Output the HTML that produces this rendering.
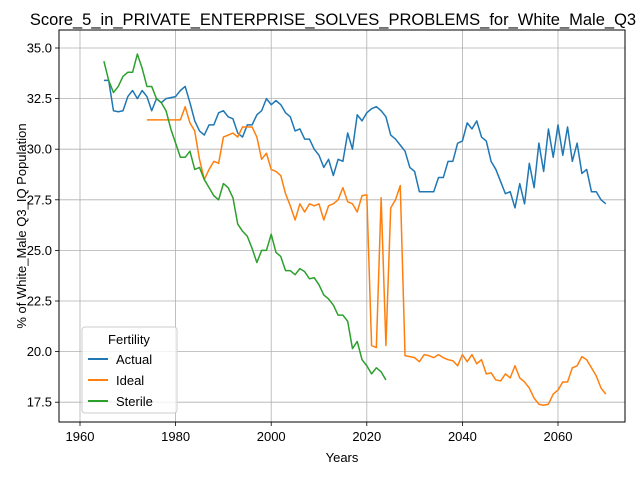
<!DOCTYPE html>
<html><head><meta charset="utf-8"><style>
body{margin:0;background:#fff;font-family:"Liberation Sans","DejaVu Sans",sans-serif}
</style></head><body>
<svg id="chart" width="640" height="480" xmlns="http://www.w3.org/2000/svg">
<rect width="640" height="480" fill="#fff"/>
<g id="grid"></g>
<g id="series"></g>
<rect x="59" y="30" width="566" height="392" fill="none" stroke="#000" stroke-width="1"/>
<g id="ticks"></g>
<text x="333" y="25" font-size="16.5" text-anchor="middle">Score_5_in_PRIVATE_ENTERPRISE_SOLVES_PROBLEMS_for_White_Male_Q3</text>
<text x="342" y="462" font-size="13" text-anchor="middle">Years</text>
<text transform="translate(26,226) rotate(-90)" font-size="13" text-anchor="middle">% of White_Male Q3_IQ Population</text>
<g>
<rect x="82" y="327" width="95" height="86" rx="3" fill="#fff" fill-opacity="0.8" stroke="#ccc"/>
<text x="129" y="344" font-size="13" text-anchor="middle">Fertility</text>
<line x1="88" y1="359" x2="108" y2="359" stroke="#1f77b4" stroke-width="2"/>
<text x="116" y="364" font-size="13">Actual</text>
<line x1="88" y1="380" x2="108" y2="380" stroke="#ff7f0e" stroke-width="2"/>
<text x="116" y="385" font-size="13">Ideal</text>
<line x1="88" y1="401" x2="108" y2="401" stroke="#2ca02c" stroke-width="2"/>
<text x="116" y="406" font-size="13">Sterile</text>
</g>
</svg>
<script>
const actualStart = 1965;
const actualValues = [33.4,33.4,31.9,31.85,31.9,32.6,32.9,32.5,32.9,32.6,31.9,32.5,32.3,32.5,32.55,32.6,32.9,33.1,32.3,31.4,30.9,30.7,31.2,31.2,31.8,31.9,31.6,31.5,30.8,30.6,31.2,31.2,31.7,31.9,32.5,32.2,32.4,32.2,31.8,31.6,30.9,31.0,30.5,30.5,30.0,29.7,29.1,29.5,28.7,29.5,29.4,30.8,30.0,31.7,31.4,31.8,32.0,32.1,31.9,31.6,30.7,30.5,30.2,29.9,29.1,28.9,27.9,27.9,27.9,27.9,28.6,28.6,29.4,29.4,30.3,30.4,31.3,31.0,31.4,30.6,30.4,29.4,29.0,28.4,27.8,27.9,27.1,28.3,27.3,29.3,28.1,30.3,28.9,31.0,29.6,31.2,29.7,31.1,29.4,30.3,28.8,29.0,27.9,27.9,27.5,27.3];
const idealStart = 1974;
const idealValues = [31.45,31.45,31.45,31.45,31.45,31.45,31.45,31.45,32.1,31.3,30.9,29.5,28.5,29.0,29.4,29.3,30.6,30.7,30.8,30.6,31.1,31.1,31.1,30.6,29.5,29.8,29.0,28.9,28.7,27.8,27.2,26.5,27.3,26.9,27.3,27.2,27.3,26.5,27.2,27.3,27.5,28.1,27.4,27.3,26.9,27.7,27.75,20.3,20.2,27.6,20.3,27.1,27.5,28.2,19.8,19.75,19.7,19.5,19.85,19.8,19.7,19.85,19.7,19.6,19.55,19.3,19.85,19.5,19.85,19.4,19.6,18.9,18.95,18.6,18.55,18.9,18.7,19.3,18.7,18.5,18.2,17.7,17.4,17.35,17.4,17.9,18.1,18.5,18.5,19.2,19.3,19.75,19.6,19.2,18.8,18.2,17.9];
const sterileStart = 1965;
const sterileValues = [34.35,33.4,32.8,33.1,33.6,33.8,33.8,34.7,34.0,33.1,33.1,32.5,32.3,31.9,31.0,30.3,29.6,29.6,29.9,29.0,29.1,28.5,28.1,27.7,27.5,28.3,28.1,27.6,26.3,25.95,25.7,25.1,24.4,25.0,25.0,25.8,24.9,24.7,24.0,24.0,23.8,24.1,23.95,23.6,23.65,23.3,22.8,22.6,22.3,21.8,21.8,21.5,20.15,20.5,19.6,19.3,18.9,19.2,19.0,18.6];
const xTicks = [1960,1980,2000,2020,2040,2060];
const yTicks = [17.5,20.0,22.5,25.0,27.5,30.0,32.5,35.0];

const NS = "http://www.w3.org/2000/svg";
function xs(v){return 80 + (v-1960)*(95.6/20);}
function ys(v){return 48 + (35-v)*(50.6/2.5);}
const grid = document.getElementById('grid');
const ticks = document.getElementById('ticks');
function mk(tag, attrs, parent){const e=document.createElementNS(NS,tag);for(const k in attrs)e.setAttribute(k,attrs[k]);parent.appendChild(e);return e;}
xTicks.forEach(t=>{
  const x=xs(t);
  const g=mk('line',{x1:x,y1:30,x2:x,y2:422,stroke:'#b0b0b0','stroke-width':0.8},grid);
  
  
  mk('line',{x1:x,y1:422,x2:x,y2:426,stroke:'#000','stroke-width':0.8},ticks);
  const l=mk('text',{x:x,y:441,'font-size':13,'text-anchor':'middle'},ticks);
  l.textContent=t;
  
  
});
yTicks.forEach(t=>{
  const y=ys(t);
  const g=mk('line',{x1:59,y1:y,x2:625,y2:y,stroke:'#b0b0b0','stroke-width':0.8},grid);
  
  
  mk('line',{x1:55,y1:y,x2:59,y2:y,stroke:'#000','stroke-width':0.8},ticks);
  const l=mk('text',{x:52,y:y+4.5,'font-size':13,'text-anchor':'end'},ticks);
  l.textContent=t.toFixed(1);
  
  
});
const series = document.getElementById('series');
function draw(start, vals, color, name){
  const pts = vals.map((v,i)=>xs(start+i).toFixed(2)+','+ys(v).toFixed(2)).join(' ');
  const p=mk('polyline',{points:pts,fill:'none',stroke:color,'stroke-width':1.5,'stroke-linejoin':'round'},series);
  
  
}
draw(actualStart, actualValues, '#1f77b4', 'actual-line');
draw(idealStart, idealValues, '#ff7f0e', 'ideal-line');
draw(sterileStart, sterileValues, '#2ca02c', 'sterile-line');
</script>
</body></html>
